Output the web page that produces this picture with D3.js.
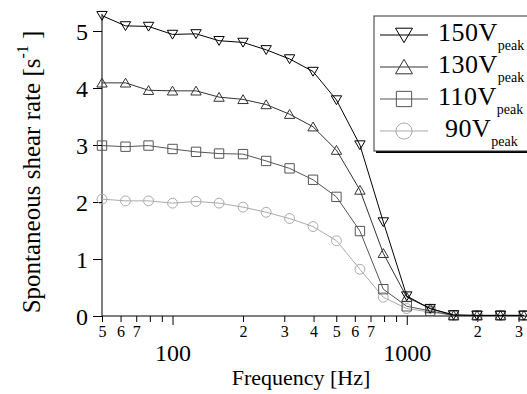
<!DOCTYPE html>
<html>
<head>
<meta charset="utf-8">
<script src="https://cdn.jsdelivr.net/npm/d3@7"></script>
<style>
  body { margin: 0; background: #fff; }
  svg { display: block; }
  svg text { font-family: "Liberation Serif", "Times New Roman", Times, serif; }
</style>
</head>
<body>
<div id="chart"></div>
<script>
// frequencies [Hz]
const freqs = [50, 63, 79, 100, 126, 158, 200, 251, 316, 398, 501, 631, 794, 1000, 1259, 1585, 1995, 2512, 3162];

// shear rate [1/s] for each drive voltage
const v150 = [5.27, 5.09, 5.08, 4.94, 4.95, 4.83, 4.80, 4.67, 4.51, 4.29, 3.79, 3.00, 1.65, 0.35, 0.13, 0.02, 0.01, 0.01, 0.01];
const v130 = [4.09, 4.09, 3.96, 3.95, 3.95, 3.84, 3.80, 3.71, 3.54, 3.32, 2.91, 2.21, 1.10, 0.33, 0.13, 0.01, 0.01, 0.01, 0.01];
const v110 = [2.99, 2.97, 2.99, 2.93, 2.88, 2.85, 2.84, 2.72, 2.59, 2.39, 2.09, 1.49, 0.47, 0.17, 0.09, 0.01, 0.01, 0.01, 0.01];
const v90  = [2.05, 2.02, 2.02, 1.98, 2.01, 1.98, 1.91, 1.82, 1.71, 1.57, 1.32, 0.82, 0.33, 0.13, 0.07, 0.01, 0.01, 0.01, 0.01];

const seriesNames = ["150V", "130V", "110V", " 90V"];
const seriesValues = [v150, v130, v110, v90];
const seriesColors = ["#000", "#333", "#555", "#aaa"];
const seriesMarkers = ["down", "up", "square", "circle"];

const yTicks = [0, 1, 2, 3, 4, 5];
const xMajor = [100, 1000];
const xMinor = [60, 70, 80, 90, 200, 300, 400, 500, 600, 700, 800, 900, 2000, 3000];
const minorLabelled = [2, 3, 4, 5, 6, 7];

const W = 527, H = 394;
const serif = "Liberation Serif";

const svg = d3.select("#chart").append("svg")
  .attr("width", W)
  .attr("height", H)
  .attr("font-family", serif);

// scales
const x = d3.scaleLog().domain([50, 3260]).range([102, 527]);
const y = d3.scaleLinear().domain([0, 5.3]).range([316, 13.9]);

// marker path for a given kind and size (half width)
function marker(kind, s) {
  if (kind === "down") return `M${-s},${-s * 0.8}L${s},${-s * 0.8}L0,${s * 0.9}Z`;
  if (kind === "up") return `M${-s},${s * 0.8}L${s},${s * 0.8}L0,${-s * 0.9}Z`;
  if (kind === "square") return `M${-s * 0.9},${-s * 0.9}h${s * 1.8}v${s * 1.8}h${-s * 1.8}Z`;
  return d3.arc()({innerRadius: 0, outerRadius: s * 0.95, startAngle: 0, endAngle: 2 * Math.PI});
}

// y axis
const yAxis = svg.append("g")
  .attr("transform", `translate(${x(50)},0)`)
  .call(d3.axisLeft(y).tickValues(yTicks).tickSize(9).tickPadding(5).tickFormat(d3.format("d")))
  .attr("font-family", serif);
yAxis.select(".domain").attr("d", `M0,${y(0)}V${y(5.3)}`).attr("stroke", "#000");
yAxis.selectAll("text").attr("font-size", 24).attr("fill", "#000").attr("dy", "0.35em");

// x axis: minor ticks
const xMinorAxis = svg.append("g")
  .attr("transform", `translate(0,${y(0)})`)
  .call(d3.axisBottom(x).tickValues([50].concat(xMinor)).tickSize(6)
    .tickFormat(d => {
      const m = Math.round(d / Math.pow(10, Math.floor(Math.log10(d))));
      return minorLabelled.includes(m) ? String(m) : "";
    }))
  .attr("font-family", serif);
xMinorAxis.select(".domain").attr("d", `M${x(50)},0H${W}`).attr("stroke", "#000");
xMinorAxis.selectAll("text").attr("font-size", 16).attr("fill", "#000").attr("y", 21).attr("dy", 0);

// x axis: major ticks
const xMajorAxis = svg.append("g")
  .attr("transform", `translate(0,${y(0)})`)
  .call(d3.axisBottom(x).tickValues(xMajor).tickSize(9).tickFormat(d3.format("d")))
  .attr("font-family", serif);
xMajorAxis.select(".domain").remove();
xMajorAxis.selectAll("text").attr("font-size", 24).attr("fill", "#000").attr("y", 45).attr("dy", 0);

// axis titles
svg.append("text")
  .attr("x", 301).attr("y", 385)
  .attr("text-anchor", "middle")
  .attr("font-family", serif)
  .attr("font-size", 22)
  .text("Frequency [Hz]");

const yTitle = svg.append("text")
  .attr("transform", "translate(40,172) rotate(-90)")
  .attr("text-anchor", "middle")
  .attr("font-family", serif)
  .attr("font-size", 25)
  .style("white-space", "pre");
yTitle.append("tspan").text("Spontaneous shear rate [s");
yTitle.append("tspan").attr("font-size", 16).attr("dy", -12).text("-1");
yTitle.append("tspan").attr("dy", 12).text(" ]");

// series (draw lightest first)
const line = d3.line().x((d, i) => x(freqs[i])).y(d => y(d));
for (let k = seriesValues.length - 1; k >= 0; k--) {
  const g = svg.append("g");
  g.append("path")
    .attr("d", line(seriesValues[k]))
    .attr("fill", "none")
    .attr("stroke", seriesColors[k])
    .attr("stroke-width", 1);
  g.selectAll("path.m")
    .data(seriesValues[k])
    .join("path")
    .attr("class", "m")
    .attr("transform", (d, i) => `translate(${x(freqs[i])},${y(d)})`)
    .attr("d", marker(seriesMarkers[k], 5.2))
    .attr("fill", "none")
    .attr("stroke", seriesColors[k])
    .attr("stroke-width", 1);
}

// legend
const legend = svg.append("g").attr("transform", "translate(374,16)");
legend.append("rect").attr("x", 2).attr("y", 2).attr("width", 200).attr("height", 135).attr("fill", "#000");
legend.append("rect").attr("x", 0).attr("y", 0).attr("width", 200).attr("height", 135)
  .attr("fill", "#fff").attr("stroke", "#333").attr("stroke-width", 1);

seriesNames.forEach((name, k) => {
  const ry = 19 + k * 32;
  const row = legend.append("g").attr("transform", `translate(0,${ry})`);
  row.append("line").attr("x1", 6).attr("x2", 54).attr("y1", 0).attr("y2", 0)
    .attr("stroke", seriesColors[k]).attr("stroke-width", 1);
  row.append("path").attr("transform", "translate(30,0)")
    .attr("d", marker(seriesMarkers[k], 8.5))
    .attr("fill", "none").attr("stroke", seriesColors[k]).attr("stroke-width", 1);
  const t = row.append("text").attr("x", 64).attr("y", 6).attr("font-size", 26)
    .attr("font-family", serif)
    .style("white-space", "pre")
    .style("letter-spacing", "0.5px");
  t.append("tspan").text(name);
  t.append("tspan").attr("font-size", 14).attr("dy", 9).style("letter-spacing", "0px").text("peak");
});
</script>
</body>
</html>
